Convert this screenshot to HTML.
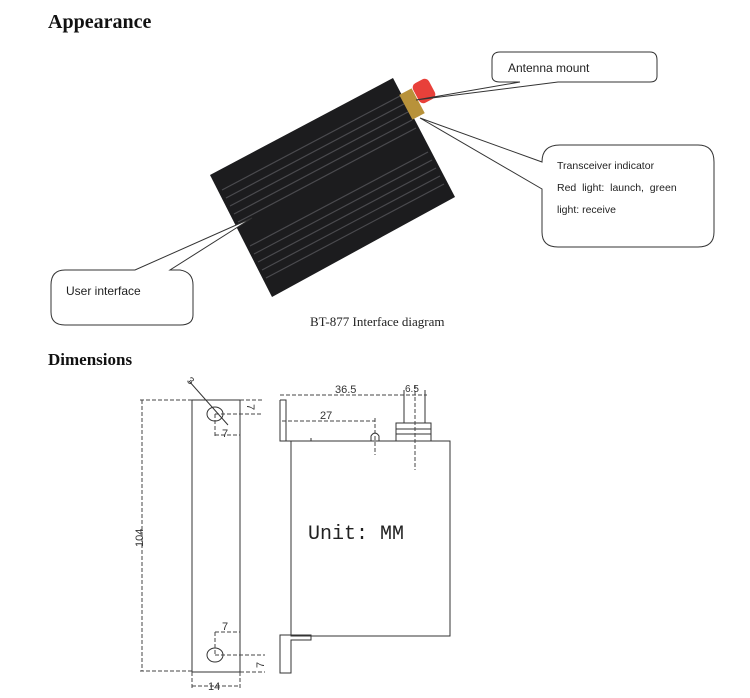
<!DOCTYPE html>
<html><head><meta charset="utf-8"><style>
html,body{margin:0;padding:0;background:#fff;width:750px;height:698px;overflow:hidden}
</style></head><body>
<svg width="750" height="698" viewBox="0 0 750 698" xmlns="http://www.w3.org/2000/svg">
<text x="48" y="28" font-family="Liberation Serif" font-weight="bold" font-size="20" fill="#111">Appearance</text>
<text x="48" y="365" font-family="Liberation Serif" font-weight="bold" font-size="17" fill="#111">Dimensions</text>
<text x="310" y="326" font-family="Liberation Serif" font-size="13" fill="#222">BT-877 Interface diagram</text>

<!-- device -->
<polygon points="210,175 393,78 455,197 272,297" fill="#1c1c1e"/>
<g stroke="#4a4a4e" stroke-width="1.2">
<line x1="222" y1="190" x2="400" y2="96"/>
<line x1="226" y1="198" x2="404" y2="104"/>
<line x1="230" y1="206" x2="408" y2="112"/>
<line x1="234" y1="214" x2="412" y2="120"/>
<line x1="238" y1="222" x2="416" y2="128"/>
<line x1="250" y1="246" x2="428" y2="152"/>
<line x1="254" y1="254" x2="432" y2="160"/>
<line x1="258" y1="262" x2="436" y2="168"/>
<line x1="262" y1="270" x2="440" y2="176"/>
<line x1="266" y1="278" x2="444" y2="184"/>
</g>
<!-- antenna -->
<rect x="405" y="90" width="14" height="28" fill="#b8923a" transform="rotate(-28 412 104)"/>
<rect x="415" y="80" width="18" height="22" rx="5" fill="#e8403a" transform="rotate(-28 424 91)"/>

<!-- callout lines & boxes -->
<g fill="#fff" stroke="#333" stroke-width="1">
<path d="M500,52 L650,52 Q657,52 657,60 L657,76 Q657,82 650,82 L558,82 L416,100 L520,82 L500,82 Q492,82 492,76 L492,60 Q492,52 500,52 Z"/>
<path d="M560,145 L698,145 Q714,145 714,162 L714,232 Q714,247 698,247 L558,247 Q542,247 542,232 L542,189 L420,118 L542,162 L542,162 Q542,145 560,145 Z"/>
<path d="M65,270 L135,270 L252,218 L170,270 L180,270 Q193,272 193,285 L193,315 Q193,325 180,325 L65,325 Q51,325 51,312 L51,285 Q51,270 65,270 Z"/>
</g>
<g font-family="Liberation Sans" font-size="12" fill="#222">
<text x="508" y="72">Antenna mount</text>
<text x="557" y="169" font-size="10.5">Transceiver indicator</text>
<text x="557" y="191" font-size="10.5">Red&#160;&#160;light:&#160;&#160;launch,&#160;&#160;green</text>
<text x="557" y="213" font-size="10.5">light: receive</text>
<text x="66" y="295">User interface</text>
</g>

<!-- dimensions drawing -->
<g stroke="#333" stroke-width="1" fill="none">
<rect x="192" y="400" width="48" height="272"/>
<ellipse cx="215" cy="414" rx="8" ry="7"/>
<ellipse cx="215" cy="655" rx="8" ry="7"/>
<line x1="189" y1="381" x2="228" y2="425"/>
<!-- right view -->
<path d="M280,400 L286,400 L286,441 L311,441 L311,438"/>
<path d="M280,400 L280,441 L291,441"/>
<rect x="291" y="441" width="159" height="195"/>
<path d="M280,635 L311,635 L311,640 L291,640 L291,673 L280,673 Z"/>
<path d="M371,441 L371,436 Q375,430 379,436 L379,441"/>
<rect x="396" y="423" width="35" height="18"/>
<line x1="396" y1="429" x2="431" y2="429"/>
<line x1="396" y1="434" x2="431" y2="434"/>
<line x1="404" y1="390" x2="404" y2="423"/>
<line x1="425" y1="390" x2="425" y2="423"/>
</g>
<g stroke="#444" stroke-width="1" stroke-dasharray="4,2" fill="none">
<line x1="142" y1="400" x2="142" y2="671"/>
<line x1="140" y1="400" x2="192" y2="400"/>
<line x1="140" y1="671" x2="192" y2="671"/>
<line x1="240" y1="400" x2="262" y2="400"/>
<line x1="215" y1="414" x2="262" y2="414"/>
<line x1="215" y1="414" x2="215" y2="437"/>
<line x1="215" y1="435" x2="240" y2="435"/>
<line x1="215" y1="632" x2="240" y2="632"/>
<line x1="215" y1="632" x2="215" y2="655"/>
<line x1="215" y1="655" x2="265" y2="655"/>
<line x1="240" y1="672" x2="265" y2="672"/>
<line x1="192" y1="672" x2="192" y2="690"/>
<line x1="240" y1="672" x2="240" y2="690"/>
<line x1="192" y1="686" x2="240" y2="686"/>
<line x1="280" y1="395" x2="427" y2="395"/>
<line x1="282" y1="421" x2="375" y2="421"/>
<line x1="375" y1="418" x2="375" y2="455"/>
<line x1="415" y1="385" x2="415" y2="470"/>
</g>
<g font-family="Liberation Sans" font-size="11" fill="#333">
<text x="131" y="545" transform="rotate(-90 138 540)">104</text>
<text x="248" y="413" transform="rotate(90 252 408)">7</text>
<text x="222" y="437">7</text>
<text x="222" y="630">7</text>
<text x="256" y="668" transform="rotate(-90 260 664)">7</text>
<text x="208" y="690">14</text>
<text x="335" y="393">36.5</text>
<text x="320" y="419">27</text>
<text x="405" y="392" font-size="10">6.5</text>
<text x="188" y="385" font-size="10" transform="rotate(40 192 381)">3</text>
</g>
<text x="308" y="539" font-family="Liberation Mono" font-size="20" fill="#222">Unit: MM</text>
</svg>
</body></html>
